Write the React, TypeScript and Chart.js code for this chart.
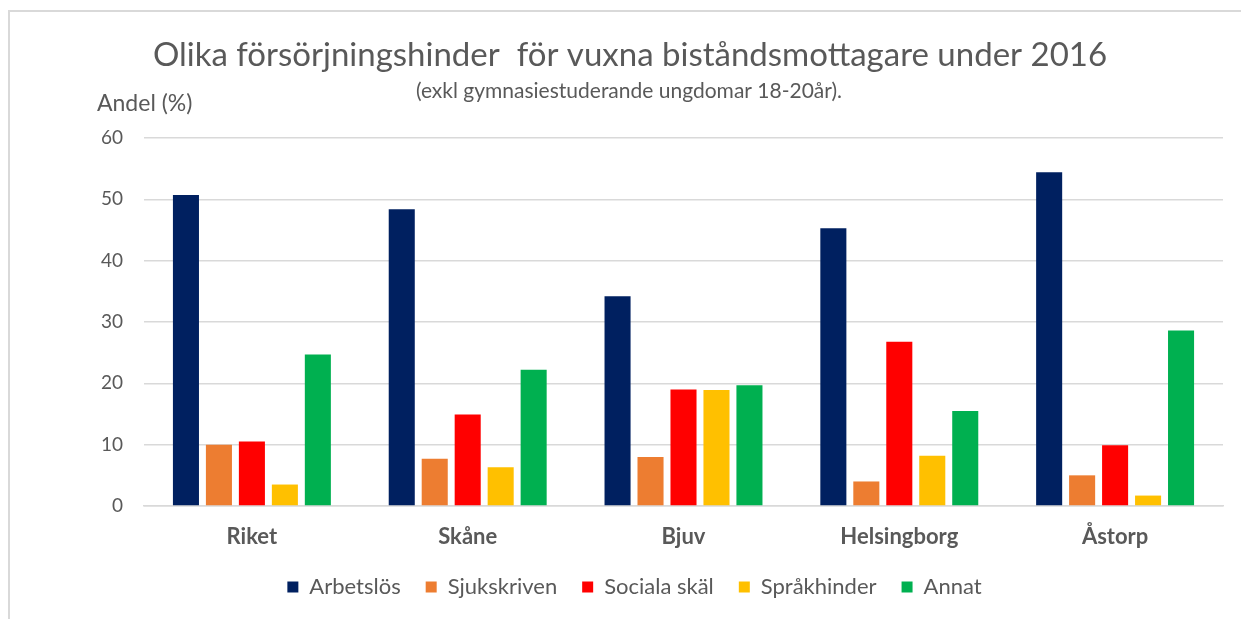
import React, { useEffect, useRef } from "react";
import { Chart, registerables } from "chart.js";

Chart.register(...registerables);

const categories = ["Riket", "Skåne", "Bjuv", "Helsingborg", "Åstorp"];
const seriesNames = ["Arbetslös", "Sjukskriven", "Sociala skäl", "Språkhinder", "Annat"];
const arbetslos = [50.7, 48.4, 34.2, 45.3, 54.4];
const sjukskriven = [10.0, 7.7, 8.0, 4.0, 5.0];
const sociala = [10.5, 14.9, 19.0, 26.8, 9.9];
const sprakhinder = [3.5, 6.3, 18.9, 8.2, 1.7];
const annat = [24.7, 22.2, 19.7, 15.5, 28.6];
const seriesColors = ["#002060", "#ED7D31", "#FF0000", "#FFC000", "#00B050"];
const yMin = 0;
const yMax = 60;
const yStep = 10;
const titleText = "Olika försörjningshinder  för vuxna biståndsmottagare under 2016";
const subtitleText = "(exkl gymnasiestuderande ungdomar 18-20år).";
const yAxisLabel = "Andel (%)";

const FONT = "Lato, 'Open Sans', sans-serif";
const TEXT = "#595959";

const textPlugin = {
  id: "headerTexts",
  afterDraw(chart: any) {
    const ctx = chart.ctx;
    ctx.save();
    ctx.fillStyle = TEXT;
    ctx.textBaseline = "middle";
    ctx.textAlign = "center";
    ctx.font = `33px ${FONT}`;
    ctx.fillText(titleText, 630, 55);
    ctx.font = `21px ${FONT}`;
    ctx.fillText(subtitleText, 629, 91);
    ctx.textAlign = "left";
    ctx.font = `23px ${FONT}`;
    ctx.fillText(yAxisLabel, 97, 104);
    ctx.restore();
  },
};

export default function App() {
  const ref = useRef<HTMLCanvasElement | null>(null);
  useEffect(() => {
    if (!ref.current) return;
    const values = [arbetslos, sjukskriven, sociala, sprakhinder, annat];
    const chart = new Chart(ref.current, {
      type: "bar",
      data: {
        labels: categories,
        datasets: seriesNames.map((name, i) => ({
          label: name,
          data: values[i],
          backgroundColor: seriesColors[i],
          borderWidth: 0,
          categoryPercentage: 0.764,
          barPercentage: 0.79,
        })),
      },
      options: {
        animation: false,
        responsive: false,
        maintainAspectRatio: false,
        layout: { padding: { top: 138, left: 46, right: 18, bottom: 11 } },
        plugins: {
          title: { display: false },
          tooltip: { enabled: false },
          legend: {
            position: "bottom",
            labels: {
              boxWidth: 11,
              boxHeight: 11,
              padding: 25,
              color: TEXT,
              font: { family: FONT, size: 22 },
            },
          },
        },
        scales: {
          x: {
            grid: { display: false, drawTicks: false },
            border: { display: true, color: "#d9d9d9", width: 1.5 },
            ticks: {
              color: TEXT,
              padding: 18,
              font: { family: FONT, size: 22, weight: "bold" },
            },
            afterFit(scale: any) {
              scale.height = 45;
            },
          },
          y: {
            min: yMin,
            max: yMax,
            ticks: {
              stepSize: yStep,
              color: TEXT,
              padding: 21,
              font: { family: FONT, size: 19 },
            },
            grid: { color: "#d9d9d9", lineWidth: 1.5, drawTicks: false },
            border: { display: false },
            afterFit(scale: any) {
              scale.width = 98;
            },
          },
        },
      },
      plugins: [textPlugin],
    });
    return () => chart.destroy();
  }, []);

  return (
    <div style={{ position: "fixed", left: 0, top: 0, width: 1241, height: 619, background: "#fff" }}>
      <div
        style={{
          position: "absolute",
          left: 8,
          top: 10,
          right: 0,
          bottom: 0,
          borderTop: "2px solid #d9d9d9",
          borderLeft: "2px solid #d9d9d9",
        }}
      />
      <canvas ref={ref} width={1241} height={619} style={{ position: "absolute", left: 0, top: 0 }} />
    </div>
  );
}
